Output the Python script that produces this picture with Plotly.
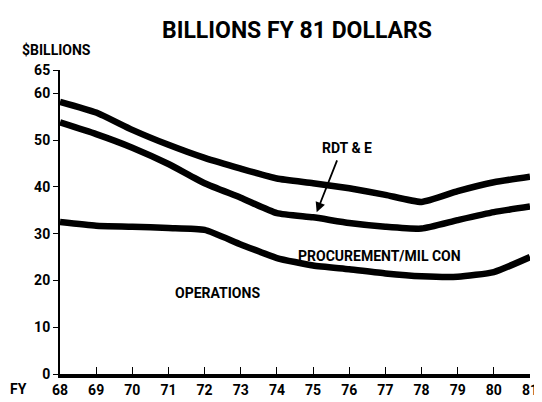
import plotly.graph_objects as go

years = [68, 69, 70, 71, 72, 73, 74, 75, 76, 77, 78, 79, 80, 81]
total = [58.2, 55.9, 52.2, 49.0, 46.2, 43.9, 41.8, 40.8, 39.7, 38.3, 36.8, 39.1, 41.0, 42.2]
procurement = [53.8, 51.3, 48.4, 44.9, 40.8, 37.7, 34.4, 33.5, 32.3, 31.5, 31.1, 32.9, 34.6, 35.8]
operations = [32.5, 31.7, 31.5, 31.2, 30.8, 27.7, 24.8, 23.2, 22.4, 21.5, 20.9, 20.8, 21.8, 25.0]
y_ticks = [0, 10, 20, 30, 40, 50, 60, 65]

FONT = "Roboto, Liberation Sans, sans-serif"

fig = go.Figure()
for s in (total, procurement, operations):
    fig.add_trace(go.Scatter(x=years, y=s, mode="lines",
                             line=dict(color="black", width=6.5, shape="spline", smoothing=0.5),
                             cliponaxis=False, showlegend=False, hoverinfo="skip"))

fig.update_layout(
    width=542, height=402,
    margin=dict(l=52, r=14, t=62, b=25),
    paper_bgcolor="white", plot_bgcolor="white",
    font=dict(family=FONT, color="black", size=14, weight="bold"),
    xaxis=dict(range=[68, 81], tickvals=years, ticktext=[str(y) for y in years],
               showgrid=False, zeroline=False, showline=True, linecolor="black", linewidth=4,
               ticks="inside", ticklen=7, tickwidth=1, tickcolor="black",
               tickfont=dict(family=FONT, size=14, weight="bold")),
    yaxis=dict(range=[0, 65], tickvals=y_ticks, ticktext=[str(v) for v in y_ticks],
               showgrid=False, zeroline=False, showline=True, linecolor="black", linewidth=2,
               ticks="outside", ticklen=5, tickwidth=1, tickcolor="black",
               tickfont=dict(family=FONT, size=14, weight="bold")),
)

ann = dict(showarrow=False, font=dict(family=FONT, size=14, color="black", weight="bold"))
fig.add_annotation(text="BILLIONS FY 81 DOLLARS", xref="paper", yref="paper", x=0.5, y=1,
                   yanchor="middle", yshift=40, xshift=2, showarrow=False,
                   font=dict(family=FONT, size=23, color="black", weight="bold"))
fig.add_annotation(text="$BILLIONS", xref="paper", yref="paper", x=0, y=1, xshift=-40,
                   yshift=20, xanchor="left", yanchor="middle", **ann)
fig.add_annotation(text="FY", xref="paper", yref="paper", x=0, y=0, xshift=-42, yshift=-15,
                   xanchor="center", yanchor="middle", **ann)
fig.add_annotation(text="RDT &amp; E", x=75.95, y=48.4, **ann)
fig.add_annotation(text="PROCUREMENT/MIL CON", x=76.85, y=25.3, **ann)
fig.add_annotation(text="OPERATIONS", x=72.37, y=17.4, **ann)
fig.add_annotation(x=75.1, y=34.6, ax=75.68, ay=46.0, axref="x", ayref="y", text="",
                   showarrow=True, arrowhead=2, arrowsize=1.1, arrowwidth=1.8, arrowcolor="black")

fig.write_html("out.html")
